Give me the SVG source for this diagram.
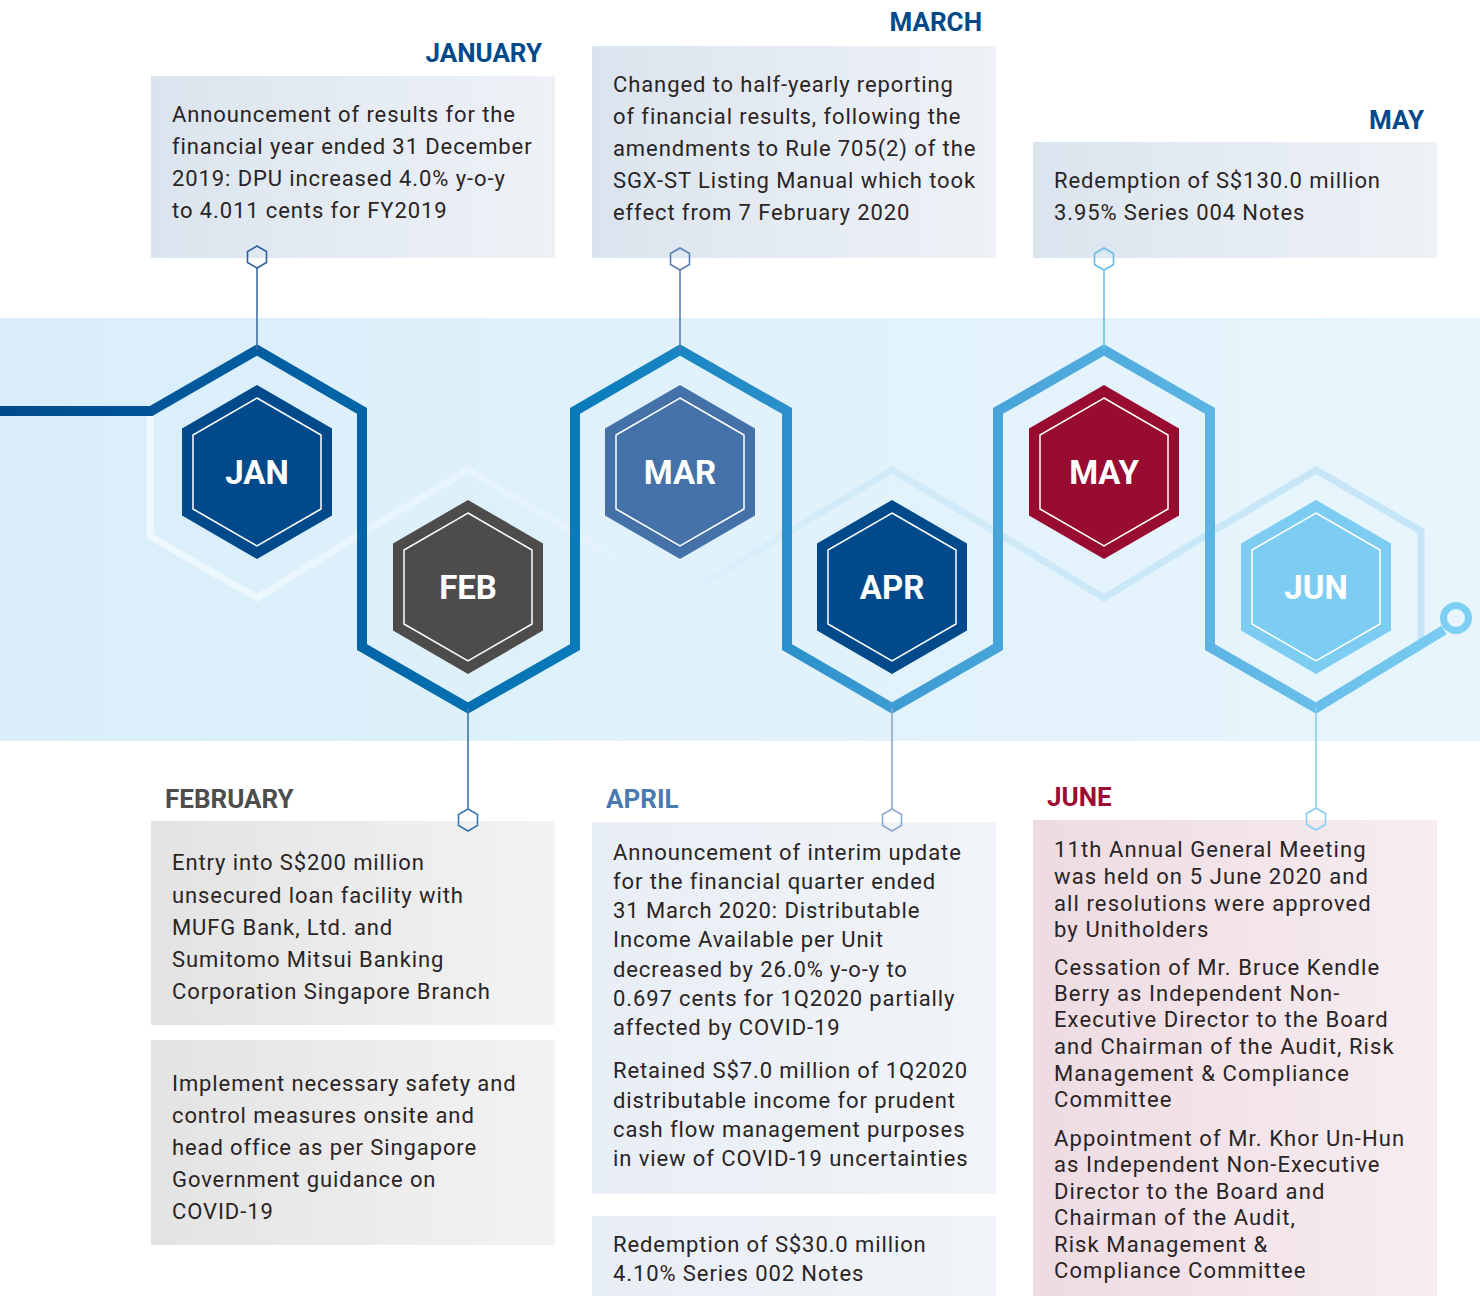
<svg xmlns="http://www.w3.org/2000/svg" width="1480" height="1296" viewBox="0 0 1480 1296">
  <defs>
    <style>
      .body { font-family: Roboto, "Liberation Sans", sans-serif; font-size: 22px; fill: #2a2424; letter-spacing: 0.9px; }
      .wide { letter-spacing: 1.1px; }
      .month { font-family: Roboto, "Liberation Sans", sans-serif; font-size: 26px; font-weight: 700; }
      .hexlabel { font-family: Roboto, "Liberation Sans", sans-serif; font-size: 33px; font-weight: 700; fill: #ffffff; text-anchor: middle; }
      .inner { fill: none; stroke: #ffffff; stroke-width: 1.5; }
      .pin { fill: none; stroke-width: 1.6; }
    </style>
    <linearGradient id="band" x1="0" y1="0" x2="1" y2="0">
      <stop offset="0" stop-color="#d9eefa"/>
      <stop offset="1" stop-color="#e8f5fc"/>
    </linearGradient>
    <linearGradient id="trail" gradientUnits="userSpaceOnUse" x1="0" y1="0" x2="1480" y2="0">
      <stop offset="0" stop-color="#004a8c"/>
      <stop offset="0.25" stop-color="#0066a8"/>
      <stop offset="0.4" stop-color="#0a7cbc"/>
      <stop offset="0.6" stop-color="#3d9bd3"/>
      <stop offset="0.8" stop-color="#58b2e2"/>
      <stop offset="1" stop-color="#7dcff3"/>
    </linearGradient>
    <linearGradient id="ghost" gradientUnits="userSpaceOnUse" x1="140" y1="0" x2="1430" y2="0">
      <stop offset="0" stop-color="#eef8fe"/>
      <stop offset="0.35" stop-color="#e4f3fc"/>
      <stop offset="0.55" stop-color="#d2ebf9"/>
      <stop offset="1" stop-color="#c3e5f7"/>
    </linearGradient>
    <linearGradient id="boxBlue" x1="0" y1="0" x2="1" y2="0">
      <stop offset="0" stop-color="#dbe4ee"/>
      <stop offset="1" stop-color="#eef2f7"/>
    </linearGradient>
    <linearGradient id="boxGrey" x1="0" y1="0" x2="1" y2="0">
      <stop offset="0" stop-color="#e3e3e3"/>
      <stop offset="1" stop-color="#f3f3f3"/>
    </linearGradient>
    <linearGradient id="boxPale" x1="0" y1="0" x2="1" y2="0">
      <stop offset="0" stop-color="#e8eef5"/>
      <stop offset="1" stop-color="#f1f4f8"/>
    </linearGradient>
    <linearGradient id="boxPink" x1="0" y1="0" x2="1" y2="0">
      <stop offset="0" stop-color="#eedbe2"/>
      <stop offset="1" stop-color="#f7edf1"/>
    </linearGradient>
    <!-- month hexagon (filled) and its white inner outline -->
    <polygon id="hexFill" points="0,-87 75,-43.5 75,43.5 0,87 -75,43.5 -75,-43.5"/>
    <polygon id="hexLine" points="0,-74 64,-37 64,37 0,74 -64,37 -64,-37"/>
    <!-- small pin hexagon -->
    <polygon id="pinHex" points="0,-11 9.5,-5.5 9.5,5.5 0,11 -9.5,5.5 -9.5,-5.5"/>
  </defs>

  <rect x="0" y="0" width="1480" height="1296" fill="#ffffff"/>
  <rect x="0" y="318" width="1480" height="423" fill="url(#band)"/>

  <!-- connectors: faint mirrored trail, main trail, pin stems -->
  <g id="connectors">
    <path d="M150,411 V536 L257,598 L362,533 L468,470 L575,533 L680,598 L787,533 L892,470 L998,533 L1104,598 L1210,533 L1316,470 L1421,531 V645" fill="none" stroke="url(#ghost)" stroke-width="7" stroke-linejoin="miter"/>
    <path d="M0,411 H151 L257,350 L362,411 V647 L468,708 L575,647 V411 L680,350 L787,411 V647 L892,708 L998,647 V411 L1104,350 L1210,411 V647 L1316,708 L1444,630" fill="none" stroke="url(#trail)" stroke-width="10" stroke-linejoin="miter"/>
    <circle cx="1456" cy="618" r="12.5" fill="#e8f5fc" stroke="#7dcff3" stroke-width="7"/>

    <line x1="257" y1="268" x2="257" y2="350" stroke="#3d6ea6" stroke-width="1.6"/>
    <line x1="680" y1="270" x2="680" y2="350" stroke="#5b80b2" stroke-width="1.6"/>
    <line x1="1104" y1="270" x2="1104" y2="350" stroke="#6cbde8" stroke-width="1.6"/>
    <line x1="468" y1="708" x2="468" y2="809" stroke="#3d75b0" stroke-width="1.6"/>
    <line x1="892" y1="708" x2="892" y2="809" stroke="#8aa9cb" stroke-width="1.6"/>
    <line x1="1316" y1="708" x2="1316" y2="808" stroke="#86cff2" stroke-width="1.6"/>
  </g>

  <!-- January -->
  <g id="node-jan">
    <text class="month" x="542" y="62" text-anchor="end" fill="#004a8b">JANUARY</text>
    <rect x="151" y="76" width="404" height="182" fill="url(#boxBlue)"/>
    <text class="body" x="172" y="122">Announcement of results for the</text>
    <text class="body" x="172" y="154">financial year ended 31 December</text>
    <text class="body" x="172" y="186">2019: DPU increased 4.0% y-o-y</text>
    <text class="body" x="172" y="218">to 4.011 cents for FY2019</text>
    <use href="#pinHex" x="257" y="257" class="pin" stroke="#2e619c"/>
    <use href="#hexFill" x="257" y="472" fill="#004a8b"/>
    <use href="#hexLine" x="257" y="472" class="inner"/>
    <text class="hexlabel" x="257" y="484">JAN</text>
  </g>

  <!-- February -->
  <g id="node-feb">
    <text class="month" x="165" y="808" fill="#4d4d4d">FEBRUARY</text>
    <rect x="151" y="821" width="404" height="204" fill="url(#boxGrey)"/>
    <text class="body" x="172" y="870">Entry into S$200 million</text>
    <text class="body" x="172" y="903">unsecured loan facility with</text>
    <text class="body" x="172" y="935">MUFG Bank, Ltd. and</text>
    <text class="body" x="172" y="967">Sumitomo Mitsui Banking</text>
    <text class="body" x="172" y="999">Corporation Singapore Branch</text>
    <rect x="151" y="1040" width="404" height="205" fill="url(#boxGrey)"/>
    <text class="body" x="172" y="1091">Implement necessary safety and</text>
    <text class="body" x="172" y="1123">control measures onsite and</text>
    <text class="body" x="172" y="1155">head office as per Singapore</text>
    <text class="body" x="172" y="1187">Government guidance on</text>
    <text class="body" x="172" y="1219">COVID-19</text>
    <use href="#pinHex" x="468" y="820" class="pin" stroke="#3d75b0"/>
    <use href="#hexFill" x="468" y="587" fill="#4d4c4a"/>
    <use href="#hexLine" x="468" y="587" class="inner"/>
    <text class="hexlabel" x="468" y="599">FEB</text>
  </g>

  <!-- March -->
  <g id="node-mar">
    <text class="month" x="982" y="31" text-anchor="end" fill="#004a8b">MARCH</text>
    <rect x="592" y="46" width="404" height="212" fill="url(#boxBlue)"/>
    <text class="body" x="613" y="92">Changed to half-yearly reporting</text>
    <text class="body" x="613" y="124">of financial results, following the</text>
    <text class="body" x="613" y="156">amendments to Rule 705(2) of the</text>
    <text class="body" x="613" y="188">SGX-ST Listing Manual which took</text>
    <text class="body" x="613" y="220">effect from 7 February 2020</text>
    <use href="#pinHex" x="680" y="259" class="pin" stroke="#5b80b2"/>
    <use href="#hexFill" x="680" y="472" fill="#4472a8"/>
    <use href="#hexLine" x="680" y="472" class="inner"/>
    <text class="hexlabel" x="680" y="484">MAR</text>
  </g>

  <!-- April -->
  <g id="node-apr">
    <text class="month" x="606" y="808" fill="#4a7ab0">APRIL</text>
    <rect x="592" y="822" width="404" height="372" fill="url(#boxPale)"/>
    <text class="body" x="613" y="860">Announcement of interim update</text>
    <text class="body" x="613" y="889">for the financial quarter ended</text>
    <text class="body" x="613" y="918">31 March 2020: Distributable</text>
    <text class="body" x="613" y="947">Income Available per Unit</text>
    <text class="body" x="613" y="977">decreased by 26.0% y-o-y to</text>
    <text class="body" x="613" y="1006">0.697 cents for 1Q2020 partially</text>
    <text class="body" x="613" y="1035">affected by COVID-19</text>
    <text class="body" x="613" y="1078">Retained S$7.0 million of 1Q2020</text>
    <text class="body" x="613" y="1108">distributable income for prudent</text>
    <text class="body" x="613" y="1137">cash flow management purposes</text>
    <text class="body" x="613" y="1166">in view of COVID-19 uncertainties</text>
    <rect x="592" y="1216" width="404" height="80" fill="url(#boxPale)"/>
    <text class="body" x="613" y="1252">Redemption of S$30.0 million</text>
    <text class="body" x="613" y="1281">4.10% Series 002 Notes</text>
    <use href="#pinHex" x="892" y="820" class="pin" stroke="#8aa9cb"/>
    <use href="#hexFill" x="892" y="587" fill="#004a8b"/>
    <use href="#hexLine" x="892" y="587" class="inner"/>
    <text class="hexlabel" x="892" y="599">APR</text>
  </g>

  <!-- May -->
  <g id="node-may">
    <text class="month" x="1424" y="129" text-anchor="end" fill="#004a8b">MAY</text>
    <rect x="1033" y="142" width="404" height="116" fill="url(#boxBlue)"/>
    <text class="body" x="1054" y="188">Redemption of S$130.0 million</text>
    <text class="body" x="1054" y="220">3.95% Series 004 Notes</text>
    <use href="#pinHex" x="1104" y="259" class="pin" stroke="#6cbde8"/>
    <use href="#hexFill" x="1104" y="472" fill="#990c31"/>
    <use href="#hexLine" x="1104" y="472" class="inner"/>
    <text class="hexlabel" x="1104" y="484">MAY</text>
  </g>

  <!-- June -->
  <g id="node-jun">
    <text class="month" x="1047" y="806" fill="#9b0d33">JUNE</text>
    <rect x="1033" y="820" width="404" height="476" fill="url(#boxPink)"/>
    <text class="body wide" x="1054" y="857">11th Annual General Meeting</text>
    <text class="body wide" x="1054" y="884">was held on 5 June 2020 and</text>
    <text class="body wide" x="1054" y="911">all resolutions were approved</text>
    <text class="body wide" x="1054" y="937">by Unitholders</text>
    <text class="body wide" x="1054" y="975">Cessation of Mr. Bruce Kendle</text>
    <text class="body wide" x="1054" y="1001">Berry as Independent Non-</text>
    <text class="body wide" x="1054" y="1027">Executive Director to the Board</text>
    <text class="body wide" x="1054" y="1054">and Chairman of the Audit, Risk</text>
    <text class="body wide" x="1054" y="1081">Management &amp; Compliance</text>
    <text class="body wide" x="1054" y="1107">Committee</text>
    <text class="body wide" x="1054" y="1146">Appointment of Mr. Khor Un-Hun</text>
    <text class="body wide" x="1054" y="1172">as Independent Non-Executive</text>
    <text class="body wide" x="1054" y="1199">Director to the Board and</text>
    <text class="body wide" x="1054" y="1225">Chairman of the Audit,</text>
    <text class="body wide" x="1054" y="1252">Risk Management &amp;</text>
    <text class="body wide" x="1054" y="1278">Compliance Committee</text>
    <use href="#pinHex" x="1316" y="819" class="pin" stroke="#86cff2"/>
    <use href="#hexFill" x="1316" y="587" fill="#7dcdf3"/>
    <use href="#hexLine" x="1316" y="587" class="inner"/>
    <text class="hexlabel" x="1316" y="599">JUN</text>
  </g>
</svg>
